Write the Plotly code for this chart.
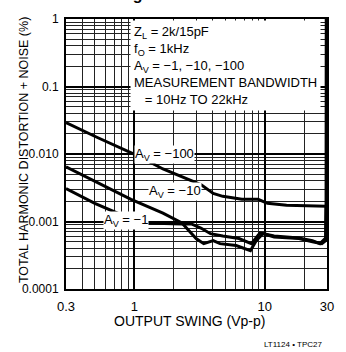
import math
import plotly.graph_objects as go

# ---- data ----
swing_m100 = [0.3, 0.517, 1.12, 1.66, 3.24, 4.03, 4.77, 6.68, 8.89, 10.5, 14.7, 28.8, 29.5, 29.6]
thd_m100 = [0.0293, 0.0177, 0.0090, 0.0060, 0.00353, 0.0026, 0.00236, 0.00213, 0.00213, 0.00186, 0.00174, 0.00168, 0.00168, 1.2]

swing_m10 = [0.3, 0.499, 0.945, 1.66, 2.32, 2.98, 3.41, 4.03, 4.54, 6.04, 7.77, 8.6, 9.67, 11.8, 18.3, 23.2, 27.4, 29.3, 29.5]
thd_m10 = [0.00646, 0.0039, 0.00213, 0.00133, 0.00095, 0.00056, 0.00047, 0.00052, 0.00047, 0.00044, 0.00037, 0.00052, 0.00066, 0.00059, 0.00056, 0.00050, 0.00047, 0.00052, 0.0017]

swing_m1 = [0.3, 0.499, 0.945, 1.24, 2.32, 2.74, 3.24, 3.84, 4.77, 6.35, 7.9, 9.2, 11.8, 18.3, 23.2, 26.5, 29.3, 29.5]
thd_m1 = [0.00308, 0.00186, 0.00109, 0.00095, 0.00092, 0.00092, 0.00080, 0.00066, 0.00061, 0.00056, 0.00047, 0.00068, 0.00061, 0.00057, 0.00052, 0.00047, 0.00057, 0.0017]

x_ticks = [0.3, 1, 10, 30]
x_ticktext = ["0.3", "1", "10", "30"]
y_ticks = [0.0001, 0.001, 0.01, 0.1, 1]
y_ticktext = ["0.0001", "0.001", "0.010", "0.1", "1"]

FONT = "Liberation Sans Narrow, Liberation Sans, Arial, sans-serif"

x_minor = [m * 10 ** e for e in (-1, 0, 1) for m in range(2, 10) if 0.3 < m * 10 ** e < 30]
y_minor = [m * 10 ** e for e in (-4, -3, -2, -1) for m in range(2, 10)]

fig = go.Figure()
for xs, ys in [(swing_m100, thd_m100), (swing_m10, thd_m10), (swing_m1, thd_m1)]:
    fig.add_trace(go.Scatter(x=xs, y=ys, mode="lines",
                             line=dict(color="black", width=3),
                             showlegend=False, hoverinfo="skip"))

fig.update_layout(
    width=346, height=352,
    margin=dict(l=66, r=12, t=15, b=63),
    paper_bgcolor="white", plot_bgcolor="white",
    font=dict(family=FONT, size=13, color="black"),
)
fig.update_xaxes(
    type="log", range=[math.log10(0.3), math.log10(30)],
    tickvals=x_ticks, ticktext=x_ticktext, ticks="",
    ticklabelstandoff=4, tickfont=dict(size=13),
    showgrid=True, gridcolor="black", gridwidth=1.5,
    minor=dict(tickvals=x_minor, showgrid=True, gridcolor="#222", gridwidth=1, ticks=""),
    showline=True, linecolor="black", linewidth=2, mirror=True,
    zeroline=False,
)
fig.update_yaxes(
    type="log", range=[-4, 0],
    tickvals=y_ticks, ticktext=y_ticktext, ticks="",
    ticklabelstandoff=3, tickfont=dict(size=12),
    showgrid=True, gridcolor="black", gridwidth=1.5,
    minor=dict(tickvals=y_minor, showgrid=True, gridcolor="#222", gridwidth=1, ticks=""),
    showline=True, linecolor="black", linewidth=2, mirror=True,
    zeroline=False,
)

ann = [
    dict(text="<b>Inverting Gain</b>", x=0.243, y=1.05, xref="paper", yref="paper",
         xanchor="center", yanchor="bottom", showarrow=False,
         font=dict(family="Liberation Sans, Arial, sans-serif", size=16)),
    dict(text="Z<sub>L</sub> = 2k/15pF<br>f<sub>O</sub> = 1kHz<br>A<sub>V</sub> = −1, −10, −100<br>MEASUREMENT BANDWIDTH<br>\u00a0\u00a0\u00a0= 10Hz TO 22kHz",
         x=0.246, y=0.995, xref="paper", yref="paper", xanchor="left", yanchor="top",
         align="left", showarrow=False, bgcolor="white", borderpad=3,
         font=dict(size=13)),
    dict(text="A<sub>V</sub> = −100", x=0.377, y=0.5, xref="paper", yref="paper",
         showarrow=False, bgcolor="white", borderpad=0, font=dict(size=13)),
    dict(text="A<sub>V</sub> = −10", x=0.313, y=0.361, xref="paper", yref="paper",
         showarrow=False, bgcolor="white", borderpad=0, font=dict(size=13)),
    dict(text="A<sub>V</sub> = −1", x=0.14, y=0.219, xref="paper", yref="paper",
         showarrow=False, bgcolor="white", borderpad=0, font=dict(size=13)),
    dict(text="TOTAL HARMONIC DISTORTION + NOISE (%)", x=-0.195, y=0.515,
         xref="paper", yref="paper", textangle=-90, showarrow=False, font=dict(size=12.5)),
    dict(text="OUTPUT SWING (Vp-p)", x=0.474, y=-0.12, xref="paper", yref="paper",
         xanchor="center", yanchor="middle", showarrow=False, font=dict(size=14)),
    dict(text="LT1124 • TPC27", x=0.99, y=-0.205, xref="paper", yref="paper",
         xanchor="right", yanchor="middle", showarrow=False, font=dict(size=8)),
]
fig.update_layout(annotations=ann)

fig.write_html("out.html")
